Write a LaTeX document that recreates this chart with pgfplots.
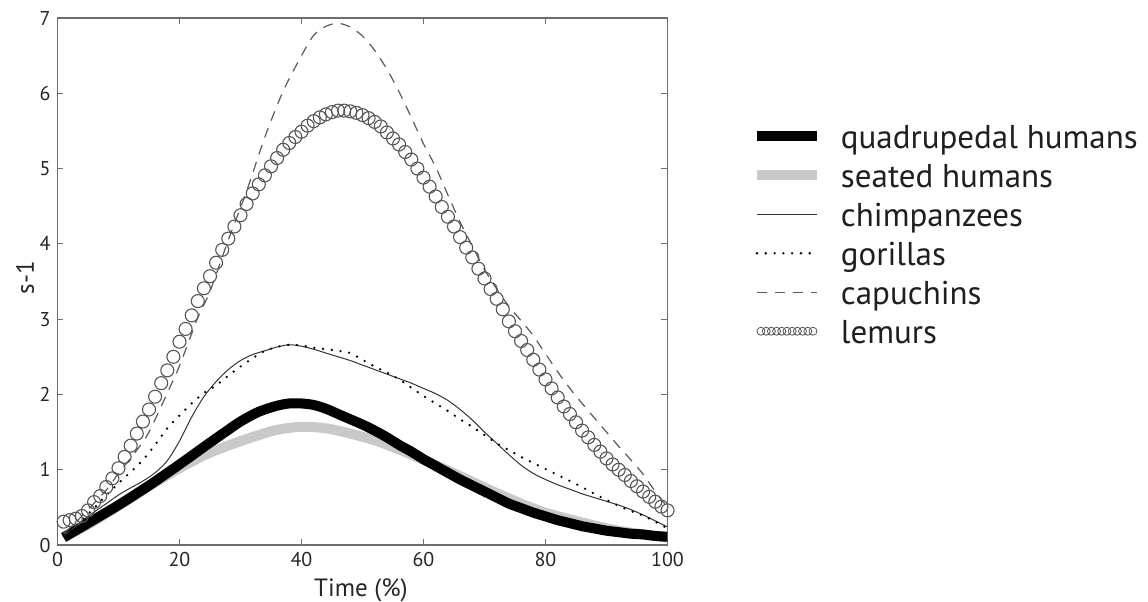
\documentclass[border=0pt]{standalone}
\usepackage{pgfplots}
\pgfplotsset{compat=1.18}
\usepackage{pgfplotstable}
\usepackage{fontspec}
\setmainfont{PT Sans}

\definecolor{axisgray}{HTML}{6E6E6E}
\definecolor{ringgray}{HTML}{555555}
\definecolor{dashgray}{HTML}{5A5A5A}
\definecolor{seatgray}{HTML}{C9C9C9}

% fixed-height strut so every legend row has the same pitch
\newcommand{\lgs}{\rule[-6pt]{0pt}{20pt}}

% angular velocity profiles over the stance phase (time in % , value in s^-1)
\pgfplotstableread{
t v
1 0.10
5 0.29
10 0.53
15 0.79
20 1.07
25 1.36
28 1.53
30 1.64
33 1.77
36 1.85
38 1.88
40 1.88
42 1.86
44 1.81
46 1.74
48 1.67
50 1.60
52 1.52
54 1.43
56 1.33
58 1.24
60 1.14
62 1.05
64 0.96
66 0.87
68 0.79
70 0.71
72 0.63
74 0.55
76 0.49
78 0.43
80 0.38
82 0.33
84 0.29
86 0.25
88 0.22
90 0.19
92 0.17
94 0.15
96 0.14
98 0.12
100 0.11
}\quadrupedal

\pgfplotstableread{
t v
1 0.10
5 0.27
10 0.52
15 0.78
20 1.02
24 1.19
27 1.29
30 1.38
33 1.46
36 1.53
40 1.57
44 1.55
48 1.48
52 1.39
56 1.27
60 1.13
64 0.99
68 0.84
72 0.69
76 0.55
80 0.43
84 0.34
88 0.26
92 0.19
96 0.14
100 0.10
}\seated

\pgfplotstableread{
t v
1 0.12
3 0.25
5 0.38
8 0.55
10.5 0.69
13.8 0.84
16 0.96
18 1.12
20 1.38
22 1.70
24 1.97
26 2.17
28 2.33
30 2.45
32 2.53
34 2.58
36 2.63
38 2.66
40 2.64
42 2.60
44 2.55
46 2.50
48 2.45
50 2.39
52 2.33
54 2.27
56 2.21
58 2.15
60 2.08
62 2.01
64 1.92
66 1.80
68 1.66
70 1.50
72 1.35
74 1.20
76 1.06
78 0.95
80 0.87
82 0.80
84 0.74
86 0.68
88 0.63
90 0.58
92 0.53
94 0.47
96 0.40
98 0.32
100 0.24
}\chimps

\pgfplotstableread{
t v
1 0.12
2 0.18
4 0.33
6 0.49
8 0.66
10 0.82
12 0.97
14 1.13
16 1.33
18 1.55
20 1.72
22 1.88
24 2.02
26 2.12
28 2.25
30 2.37
32 2.48
34 2.58
36 2.63
38 2.66
40 2.65
42 2.62
44 2.60
46 2.58
48 2.55
50 2.46
52 2.37
54 2.29
56 2.20
58 2.09
60 1.98
62 1.88
64 1.78
66 1.67
68 1.57
70 1.46
72 1.35
74 1.26
76 1.17
78 1.09
80 1.01
82 0.93
84 0.85
86 0.77
88 0.68
90 0.60
92 0.52
94 0.45
96 0.39
98 0.31
100 0.22
}\gorillas

\pgfplotstableread{
t v
1 0.15
3 0.30
5 0.47
8 0.73
10 0.95
13 1.26
15 1.50
18 2.02
20 2.38
23 3.02
25 3.37
28 4.05
31 4.70
34 5.42
37 6.03
40 6.50
42 6.77
44 6.89
46 6.93
48 6.88
50 6.76
52 6.57
54 6.32
56 6.02
58 5.68
60 5.33
62 5.02
64 4.65
66 4.29
68 3.97
70 3.66
72 3.40
74 3.17
76 2.98
78 2.78
80 2.54
82 2.30
84 2.08
86 1.88
88 1.69
90 1.50
92 1.31
94 1.13
96 0.94
98 0.71
100 0.50
}\capuchins

\pgfplotstableread{
t v
1 0.31
2 0.33
3 0.35
4 0.385
5 0.46
6 0.57
7 0.65
8 0.77
9 0.885
10 1.02
11 1.17
12 1.32
13 1.48
14 1.64
15 1.80
16 1.97
17 2.15
18 2.32
19 2.50
20 2.70
21 2.87
22 3.05
23 3.24
24 3.41
25 3.57
26 3.75
27 3.92
28 4.07
29 4.23
30 4.38
31 4.53
32 4.67
33 4.79
34 4.91
35 5.03
36 5.14
37 5.25
38 5.34
39 5.42
40 5.49
41 5.57
42 5.63
43 5.68
44 5.72
45 5.75
46 5.77
47 5.77
48 5.76
49 5.74
50 5.71
51 5.67
52 5.62
53 5.56
54 5.48
55 5.40
56 5.32
57 5.22
58 5.12
59 5.00
60 4.88
61 4.76
62 4.63
63 4.49
64 4.36
65 4.23
66 4.09
67 3.95
68 3.82
69 3.67
70 3.54
71 3.40
72 3.27
73 3.13
74 2.97
75 2.84
76 2.71
77 2.59
78 2.46
79 2.33
80 2.20
81 2.08
82 1.96
83 1.84
84 1.74
85 1.63
86 1.52
87 1.43
88 1.33
89 1.24
90 1.15
91 1.07
92 1.00
93 0.93
94 0.85
95 0.78
96 0.71
97 0.64
98 0.575
99 0.51
100 0.46
}\lemurs

\begin{document}
\begin{tikzpicture}
\path[use as bounding box] (-28.75pt,-28pt) rectangle (545.25pt,272.5pt);
\begin{axis}[
  at={(0,0)}, anchor=south west,
  scale only axis, width=305pt, height=263.5pt,
  xmin=0, xmax=100, ymin=0, ymax=7,
  xtick={0,20,...,100}, ytick={0,1,...,7},
  tick align=inside, major tick length=3pt,
  tick style={axisgray, line width=0.5pt},
  axis line style={axisgray, line width=0.6pt},
  ticklabel style={font=\fontsize{10}{12}\selectfont, text=black!85},
  /pgf/number format/assume math mode=true,
  xlabel={Time (\%)}, ylabel={s-1},
  label style={font=\fontsize{12.5}{14}\selectfont, text=black!85},
  xlabel style={at={(axis description cs:0.4975,-0.098)}, anchor=base},
  ylabel style={at={(axis description cs:-0.053,0.507)}, anchor=center},
  legend cell align=left,
  legend style={draw=none, fill=none,
    at={(axis description cs:1.128,0.821)}, anchor=north west,
    font=\fontsize{16.5}{18}\selectfont, text=black!88,
    row sep=0pt,
    /tikz/every odd column/.append style={column sep=7.5pt}},
  legend image code/.code={\draw[#1] (0pt,0pt) -- (30pt,0pt);},
]
% seated humans go underneath the quadrupedal curve
\addplot[seatgray, line width=5pt, smooth, forget plot] table[x=t,y=v] {\seated};
\addplot[black, line width=5pt, smooth] table[x=t,y=v] {\quadrupedal};
\addlegendentry{\lgs quadrupedal humans}
\addlegendimage{seatgray, line width=5pt}
\addlegendentry{\lgs seated humans}
\addplot[black!80, line width=0.5pt, smooth] table[x=t,y=v] {\chimps};
\addlegendentry{\lgs chimpanzees}
\addplot[black, line width=1.3pt, line cap=round, dash pattern=on 0pt off 4.4pt, smooth] table[x=t,y=v] {\gorillas};
\addlegendentry{\lgs gorillas}
\addplot[dashgray, line width=0.6pt, dash pattern=on 5pt off 4pt, smooth] table[x=t,y=v] {\capuchins};
\addlegendentry{\lgs capuchins}
\addplot[only marks, mark=o, mark size=3.25pt, mark options={ringgray, line width=0.55pt},
  legend image code/.code={%
    \foreach \k in {0,...,10} {\draw[ringgray, line width=0.4pt] (2pt+2.6*\k pt,0pt) circle (2pt);}}]
  table[x=t,y=v] {\lemurs};
\addlegendentry{\lgs lemurs}
\end{axis}
\end{tikzpicture}
\end{document}
